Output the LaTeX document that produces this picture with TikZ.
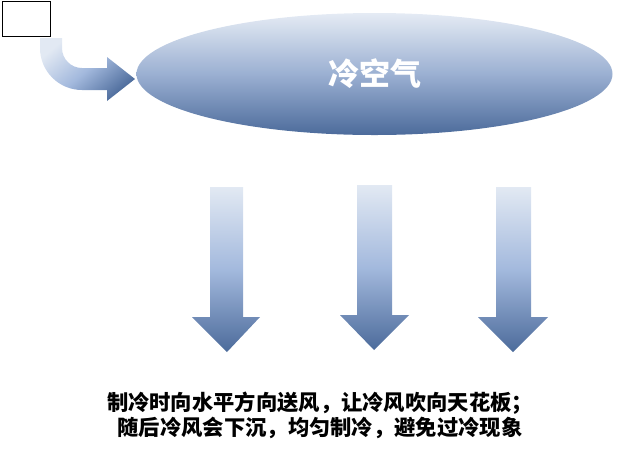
\documentclass[tikz,border=0pt]{standalone}
\usepackage{fontspec}
\newfontfamily\cjk{Noto Sans CJK SC}
\usetikzlibrary{shapes.geometric}
\definecolor{lightb}{HTML}{E2E9F3}
\definecolor{midb}{HTML}{A3B9DD}
\definecolor{darkb}{HTML}{4C6B9B}
\tikzset{
  blockarrow/.style={top color=lightb, bottom color=darkb, middle color=midb, draw=none},
}
\begin{document}
\begin{tikzpicture}[x=1pt,y=-1pt]
\useasboundingbox (0,0) rectangle (640,451);
% small box
\node[draw=black, line width=1.4pt, fill=white, minimum width=48pt, minimum height=35pt, inner sep=0pt, anchor=north west] (box) at (2,1) {};
% ellipse
\node[ellipse, top color=lightb!90!white, bottom color=darkb, middle color=midb!95!black, minimum width=476pt, minimum height=122pt, inner sep=0pt,
      font=\cjk\bfseries\fontsize{31}{31}\selectfont, text=white] (cold) at (374.5,74) {冷空气};
% curved arrow from box to ellipse
\shade[top color=lightb, bottom color=darkb, middle color=midb, shading angle=40]
  (40,38) -- (40,48) .. controls (40,71.2) and (58.8,90) .. (82,90) -- (107,90) -- (107,101) -- (135,79)
  -- (107,57) -- (107,68) -- (82,68) .. controls (71,68) and (62,59) .. (62,48) -- (62,38) -- cycle;
% down arrows
\shade[blockarrow] (210,187) -- (243,187) -- (243,317) -- (260,317) -- (227,352) -- (192,317) -- (210,317) -- cycle;
\shade[blockarrow] (357,185) -- (392,185) -- (392,315) -- (409,315) -- (374,350) -- (340,315) -- (357,315) -- cycle;
\shade[blockarrow] (496,187) -- (531,187) -- (531,317) -- (548,317) -- (513,352) -- (478,317) -- (496,317) -- cycle;
% caption
\node[font=\cjk\bfseries\fontsize{21.3}{25}\selectfont, align=center] (cap) at (320,415.5)
  {制冷时向水平方向送风，让冷风吹向天花板；\\随后冷风会下沉，均匀制冷，避免过冷现象};
\end{tikzpicture}
\end{document}
